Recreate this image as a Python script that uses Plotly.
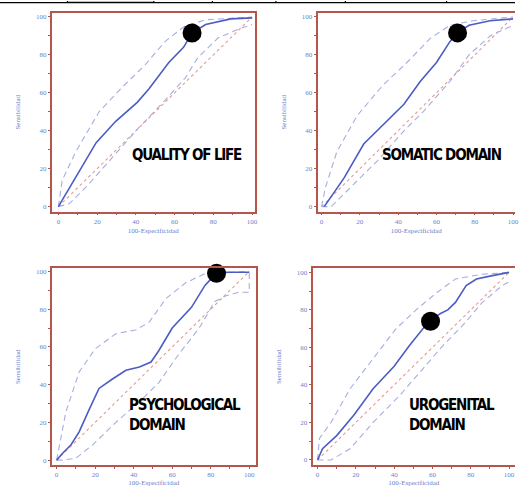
import plotly.graph_objects as go

W, H = 519, 487

# ---------------- data ----------------
# Quality of life
qol_main_x = [0, 19.5, 29.6, 40.7, 46.7, 57, 64.6, 69, 76, 89, 100]
qol_main_y = [0, 33.7, 45, 55, 62, 76, 84, 91.5, 96, 99, 99.5]
qol_up_x = [0, 2, 9, 21, 33, 45, 55, 65, 76, 100]
qol_up_y = [0, 14, 29, 50, 63, 75, 87, 95, 98.5, 100]
qol_lo_x = [0, 5.6, 14, 26, 41.5, 55, 65.6, 72, 82.5, 93, 100]
qol_lo_y = [0, 1.5, 10, 24, 41.6, 56, 68, 78.6, 89, 93.6, 96]
qol_dot = (69, 91.5)

# Somatic domain
som_main_x = [1.4, 11.7, 22, 32, 43, 51.5, 60, 67, 71, 77, 88, 100]
som_main_y = [0, 15, 33, 43, 54, 66, 76, 87, 91.6, 95.6, 98, 99]
som_up_x = [0, 2, 8, 18.6, 32, 44.6, 56.6, 67, 79, 100]
som_up_y = [0, 10, 29, 48, 64, 76, 88.6, 95.6, 98, 100]
som_lo_x = [0, 5, 15, 29, 43, 53, 67, 77, 88, 100]
som_lo_y = [0, 0, 10, 24, 40, 50, 66, 80, 90, 95.6]
som_dot = (71, 91.6)

# Psychological domain
psy_main_x = [0, 3, 7.4, 11.7, 17, 22, 29, 36, 43, 49, 53, 60, 70, 77, 81, 83, 91, 100]
psy_main_y = [0, 3.5, 8, 15, 27, 38, 43, 47.6, 49.4, 52, 58, 70, 81, 92.6, 97, 99.5, 99.6, 99.6]
psy_up_x = [0, 1.4, 4.8, 11.7, 20, 30.7, 41, 48, 56.6, 67, 77, 91, 100]
psy_up_y = [0, 8, 25.6, 46.7, 59, 67, 69, 73, 85.5, 94, 98.8, 99.6, 100]
psy_lo_x = [0, 3, 10, 18.6, 30.7, 43, 53, 63, 74, 82, 87.6, 94.5, 100, 100]
psy_lo_y = [0, 0, 1, 8, 20, 31, 41, 55.6, 70, 84, 87, 89, 89, 100]
psy_dot = (83, 99)

# Urogenital domain
uro_main_x = [0, 2.6, 10, 19, 29, 40, 48, 55, 59, 64, 68, 72, 77.6, 83, 90, 100]
uro_main_y = [0, 6, 13, 24, 38, 50, 61, 70, 74, 78, 80, 84, 93, 96.5, 98, 100]
uro_up_x = [0, 1, 7, 17, 29, 41, 52, 62, 72, 86, 100]
uro_up_y = [0, 11.5, 20, 38, 54, 70, 80.5, 89, 96.5, 99, 100]
uro_lo_x = [0, 7, 17, 29, 43, 55, 65.5, 76, 86, 96.5, 100]
uro_lo_y = [0, 0, 6, 20, 34.5, 48.7, 61, 72, 84, 93, 95]
uro_dot = (59, 74)

diag_x = [0, 100]
diag_y = [0, 100]

tick_vals = [0, 20, 40, 60, 80, 100]
tick_text = ["0", "20", "40", "60", "80", "100"]
labels = ["QUALITY OF LIFE", "SOMATIC DOMAIN", "PSYCHOLOGICAL<br>DOMAIN", "UROGENITAL<br>DOMAIN"]
x_title = "100-Especificidad"
y_title = "Sensibilidad"

# ---------------- styling ----------------
FRAME = "#b5564c"
MAIN = "#4b5cc4"
CI = "#a6aee0"
DIAG = "#e49a95"
TICKC = "#6b7fcc"
SMALLFONT = "Liberation Serif, DejaVu Serif, serif"
LABFONT = "DejaVu Sans Condensed, DejaVu Sans, sans-serif"

panels = [
    dict(main=(qol_main_x, qol_main_y), up=(qol_up_x, qol_up_y), lo=(qol_lo_x, qol_lo_y), dot=qol_dot,
         px=(52, 257), py=(12, 211), xr=[-3.5, 101.5], yr=[-2.6, 102.1], right=True,
         lab=labels[0], lab_px=(188, 154)),
    dict(main=(som_main_x, som_main_y), up=(som_up_x, som_up_y), lo=(som_lo_x, som_lo_y), dot=som_dot,
         px=(320, 519), py=(12, 211), xr=[-2.1, 101.0], yr=[-2.6, 102.1], right=False,
         lab=labels[1], lab_px=(445, 154)),
    dict(main=(psy_main_x, psy_main_y), up=(psy_up_x, psy_up_y), lo=(psy_lo_x, psy_lo_y), dot=psy_dot,
         px=(52, 258), py=(268, 465), xr=[-2.6, 103.5], yr=[-2.6, 101.6], right=True,
         lab=labels[2], lab_px=(186, 415)),
    dict(main=(uro_main_x, uro_main_y), up=(uro_up_x, uro_up_y), lo=(uro_lo_x, uro_lo_y), dot=uro_dot,
         px=(315, 519), py=(268, 465), xr=[-2.6, 103.1], yr=[-2.7, 102.1], right=False,
         lab=labels[3], lab_px=(456, 415)),
]

fig = go.Figure()
layout = {}
annotations = []
shapes = []

for i, p in enumerate(panels):
    n = "" if i == 0 else str(i + 1)
    xa, ya = "x" + n, "y" + n
    # diagonal
    fig.add_trace(go.Scatter(x=diag_x, y=diag_y, mode="lines", xaxis=xa, yaxis=ya,
                             line=dict(color=DIAG, width=1.1, dash="dot"), hoverinfo="skip"))
    # confidence bounds
    for key in ("up", "lo"):
        fig.add_trace(go.Scatter(x=p[key][0], y=p[key][1], mode="lines", xaxis=xa, yaxis=ya,
                                 line=dict(color=CI, width=1.1, dash="6px,4px"), hoverinfo="skip"))
    # ROC curve
    fig.add_trace(go.Scatter(x=p["main"][0], y=p["main"][1], mode="lines", xaxis=xa, yaxis=ya,
                             line=dict(color=MAIN, width=1.6)))
    # cut-off point
    fig.add_trace(go.Scatter(x=[p["dot"][0]], y=[p["dot"][1]], mode="markers", xaxis=xa, yaxis=ya,
                             marker=dict(color="black", size=19), cliponaxis=False))

    xd = [p["px"][0] / W, p["px"][1] / W]
    yd = [1 - p["py"][1] / H, 1 - p["py"][0] / H]
    common = dict(showgrid=False, zeroline=False, showline=True, linecolor=FRAME, linewidth=1.6,
                  ticks="outside", ticklen=2, tickcolor=FRAME, tickwidth=1,
                  tickvals=tick_vals, ticktext=tick_text, ticklabeloverflow="allow",
                  tickfont=dict(family=SMALLFONT, size=7, color=TICKC),
                  minor=dict(ticks="outside", dtick=10, ticklen=2, tickcolor=FRAME))
    layout["xaxis" + n] = dict(common, domain=xd, range=p["xr"], anchor=ya, mirror=True,
                               title=dict(text=x_title, standoff=3,
                                          font=dict(family=SMALLFONT, size=7, color=TICKC)))
    layout["yaxis" + n] = dict(common, domain=yd, range=p["yr"], anchor=xa, mirror=p["right"],
                               title=dict(text=y_title, standoff=14,
                                          font=dict(family=SMALLFONT, size=7, color=TICKC)))
    annotations.append(dict(xref="paper", yref="paper", x=p["lab_px"][0] / W, y=1 - p["lab_px"][1] / H,
                            text="<span style='letter-spacing:-1.2px'><b>" + p["lab"] + "</b></span>",
                            showarrow=False, align="left",
                            xanchor="center", yanchor="middle",
                            font=dict(family=LABFONT, size=15, color="black")))

# table border remnants at the top edge
shapes.append(dict(type="rect", xref="paper", yref="paper", x0=68 / W, x1=155 / W, y0=1 - 1.5 / H, y1=1,
                   fillcolor="#f2c21b", line=dict(width=0), layer="above"))
shapes.append(dict(type="line", xref="paper", yref="paper", x0=0, x1=1, y0=1 - 1.7 / H, y1=1 - 1.7 / H,
                   line=dict(color="black", width=1.2)))
for vx in [68, 155, 214, 278, 348, 450]:
    shapes.append(dict(type="line", xref="paper", yref="paper", x0=vx / W, x1=vx / W, y0=1, y1=1 - 1.7 / H,
                       line=dict(color="black", width=1.2)))

fig.update_layout(width=W, height=H, margin=dict(l=0, r=0, t=0, b=0), showlegend=False,
                  paper_bgcolor="white", plot_bgcolor="white",
                  annotations=annotations, shapes=shapes, **layout)

fig.write_html("out.html")
